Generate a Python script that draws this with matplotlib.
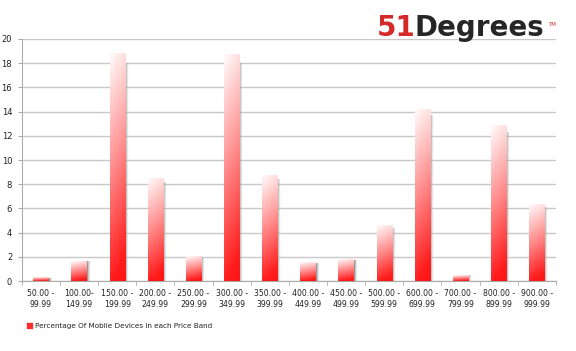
import numpy as np
import matplotlib
matplotlib.use("Agg")
import matplotlib.pyplot as plt
from matplotlib.colors import LinearSegmentedColormap

categories = ["50.00 -\n99.99", "100.00-\n149.99", "150.00 -\n199.99", "200.00 -\n249.99",
              "250.00 -\n299.99", "300.00 -\n349.99", "350.00 -\n399.99", "400.00 -\n449.99",
              "450.00 -\n499.99", "500.00 -\n599.99", "600.00 -\n699.99", "700.00 -\n799.99",
              "800.00 -\n899.99", "900.00 -\n999.99"]
values = [0.25, 1.65, 18.75, 8.5, 2.05, 18.7, 8.7, 1.5, 1.75, 4.55, 14.2, 0.45, 12.8, 6.3]
yticks = [0, 2, 4, 6, 8, 10, 12, 14, 16, 18, 20]
series_name = "Percentage Of Mobile Devices in each Price Band"

W, H = 576, 351
fig = plt.figure(figsize=(W / 100, H / 100), dpi=100)
ax = fig.add_axes([0.038, 0.199, 0.927, 0.69])

x = np.arange(len(values))
w = 0.40
cmap = LinearSegmentedColormap.from_list(
    "rg", [(0.0, "#ff1414"), (0.1, "#ff1c1c"), (0.55, "#ff8c8c"), (1.0, "#fff6f6")])
shade = LinearSegmentedColormap.from_list("sg", [(0.45, 0.45, 0.45, 0.9), (0.85, 0.85, 0.85, 0.0)])

ax.bar(x, values, width=w, color="none", zorder=1)

for xi, v in zip(x, values):
    gs = np.linspace(0, 1, 20).reshape(1, -1)
    ax.imshow(gs, cmap=shade, vmin=0, vmax=1, aspect="auto", origin="lower",
              extent=(xi + w / 2, xi + w / 2 + 0.09, 0, v * 0.96), zorder=2)
    gy = np.linspace(0, 1, 100).reshape(-1, 1)
    gx = np.linspace(0, 1, 20).reshape(1, -1)
    g = np.clip(0.9 * gy + 0.12 * (1 - gx), 0, 1)
    ax.imshow(g, cmap=cmap, vmin=0, vmax=1.0, aspect="auto", origin="lower",
              extent=(xi - w / 2, xi + w / 2, 0, v), zorder=3)

ax.set_xlim(-0.5, len(values) - 0.5)
ax.set_ylim(0, 20)
ax.set_yticks(yticks)
ax.set_yticklabels([str(t) for t in yticks], fontsize=6, family="DejaVu Sans", color="#222222")
ax.set_xticks(x)
ax.set_xticklabels(categories, fontsize=5.6, family="DejaVu Sans", color="#222222")
ax.set_xticks(np.arange(-0.5, len(values), 1), minor=True)
ax.tick_params(axis="x", which="major", length=0, pad=6)
ax.tick_params(axis="x", which="minor", length=3, color="#aaaaaa")
ax.tick_params(axis="y", length=3, color="#aaaaaa", pad=4)
ax.yaxis.grid(True, color="#c8c8c8", linewidth=1)
ax.set_axisbelow(True)
for s in ["top", "right"]:
    ax.spines[s].set_visible(False)
for s in ["left", "bottom"]:
    ax.spines[s].set_color("#aaaaaa")

# legend
fig.patches.append(plt.Rectangle((0.047, 0.066), 0.008, 0.014, transform=fig.transFigure,
                                 color="#ff2a2a", figure=fig))
fig.text(0.061, 0.072, series_name, fontsize=5.2, va="center", ha="left", color="#222222")

# logo
renderer = fig.canvas.get_renderer()
fs = 18
t1 = fig.text(0, 0, "51", fontsize=fs, fontweight="bold", color="#d42a2a")
t2 = fig.text(0, 0, "Degrees", fontsize=fs, fontweight="bold", color="#262626")
w1 = t1.get_window_extent(renderer).width
w2 = t2.get_window_extent(renderer).width
scale = 168.0 / (w1 + w2)
fs2 = fs * scale
t1.set_fontsize(fs2)
t2.set_fontsize(fs2)
w1 = t1.get_window_extent(renderer).width
base_y = 1 - 36 / H
t1.set_position((377 / W, base_y))
t1.set_va("baseline")
t2.set_position((377 / W + (w1 - 1) / W, base_y))
t2.set_va("baseline")
fig.text(548 / W, 1 - 24 / H, "TM", fontsize=4, color="#d42a2a", ha="left", va="center")

fig.savefig("out.png", dpi=100)
